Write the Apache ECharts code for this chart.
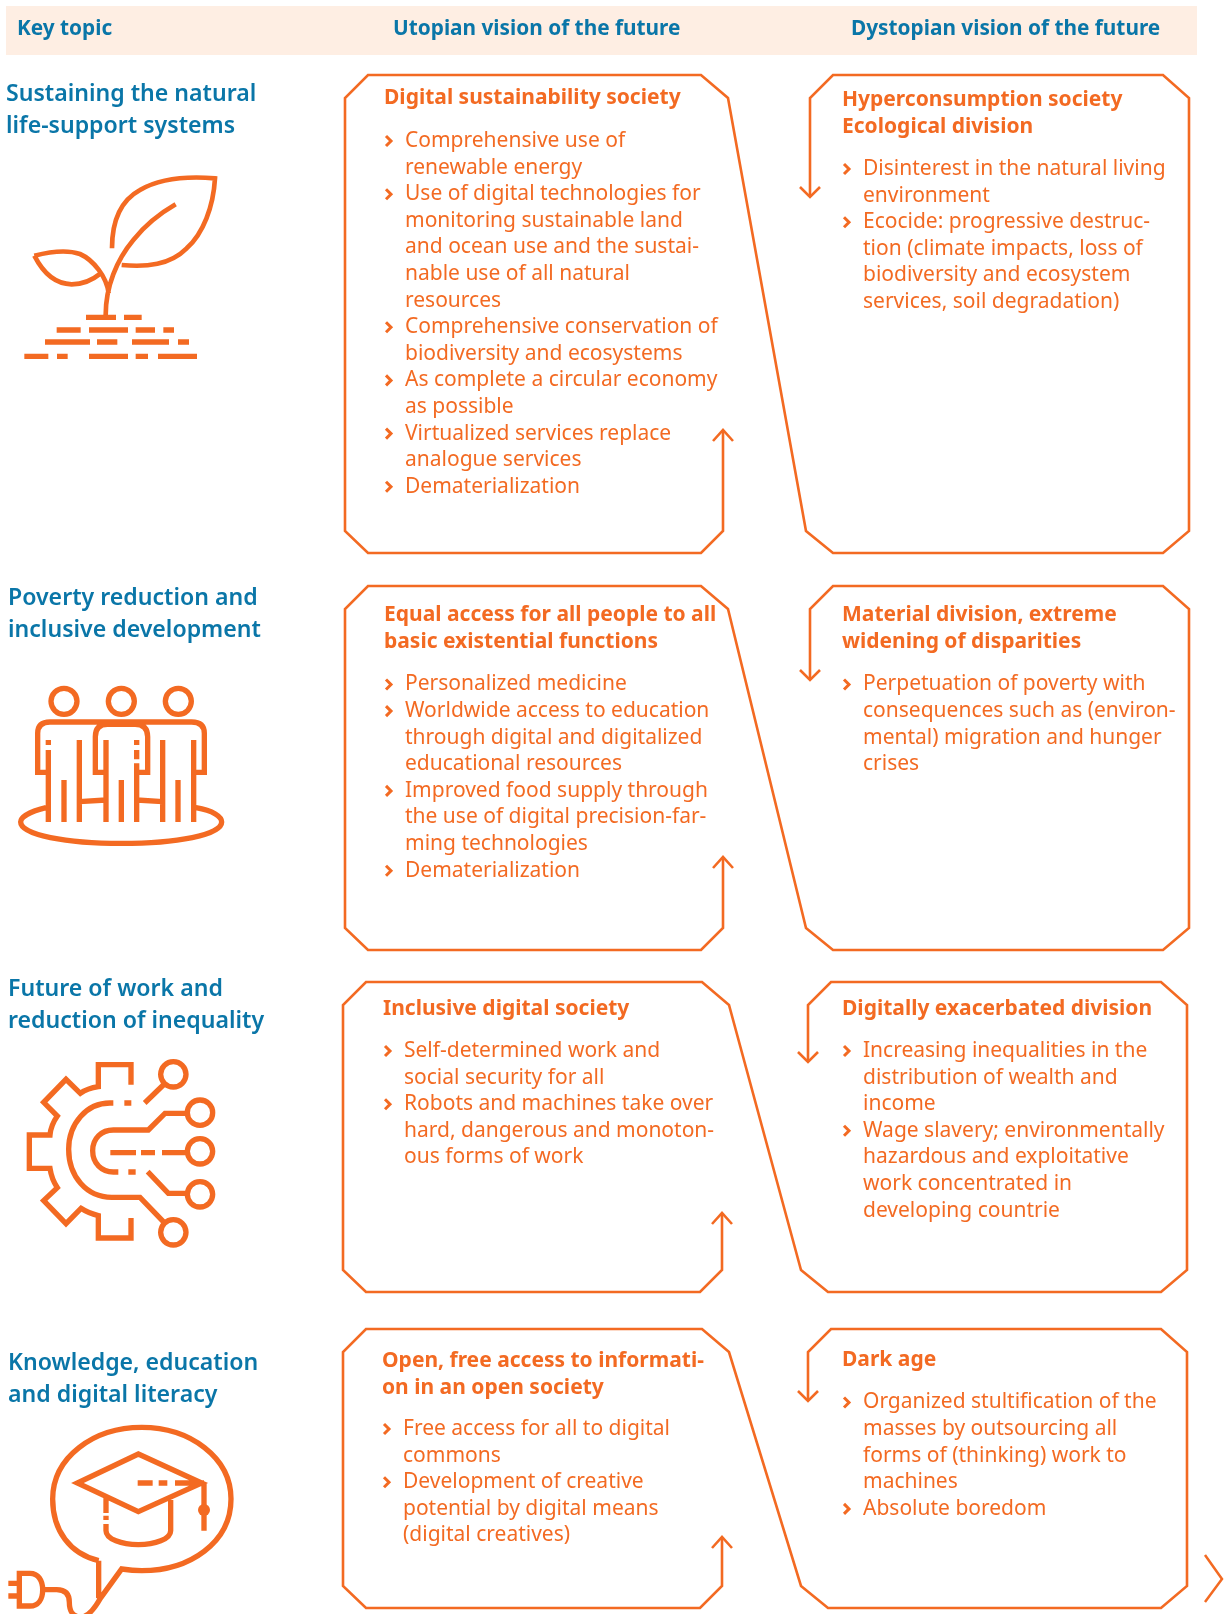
<!DOCTYPE html>
<html>
<head>
<meta charset="utf-8">
<style>html,body{margin:0;padding:0;background:#fff}#main{width:1227px;height:1614px}</style>
<script src="https://cdn.jsdelivr.net/npm/echarts@6/dist/echarts.min.js"></script>
</head>
<body>
<div id="main"></div>
<script>
// text content
var headers = ['Key topic', 'Utopian vision of the future', 'Dystopian vision of the future'];
var topics = [
    ['Sustaining the natural', 'life-support systems'],
    ['Poverty reduction and', 'inclusive development'],
    ['Future of work and', 'reduction of inequality'],
    ['Knowledge, education', 'and digital literacy']
];
var utopianTitles = [
    ['Digital sustainability society'],
    ['Equal access for all people to all', 'basic existential functions'],
    ['Inclusive digital society'],
    ['Open, free access to informati-', 'on in an open society']
];
var dystopianTitles = [
    ['Hyperconsumption society', 'Ecological division'],
    ['Material division, extreme', 'widening of disparities'],
    ['Digitally exacerbated division'],
    ['Dark age']
];
var utopianItems = [
    [['Comprehensive use of', 'renewable energy'],
     ['Use of digital technologies for', 'monitoring sustainable land', 'and ocean use and the sustai-', 'nable use of all natural', 'resources'],
     ['Comprehensive conservation of', 'biodiversity and ecosystems'],
     ['As complete a circular economy', 'as possible'],
     ['Virtualized services replace', 'analogue services'],
     ['Dematerialization']],
    [['Personalized medicine'],
     ['Worldwide access to education', 'through digital and digitalized', 'educational resources'],
     ['Improved food supply through', 'the use of digital precision-far-', 'ming technologies'],
     ['Dematerialization']],
    [['Self-determined work and', 'social security for all'],
     ['Robots and machines take over', 'hard, dangerous and monoton-', 'ous forms of work']],
    [['Free access for all to digital', 'commons'],
     ['Development of creative', 'potential by digital means', '(digital creatives)']]
];
var dystopianItems = [
    [['Disinterest in the natural living', 'environment'],
     ['Ecocide: progressive destruc-', 'tion (climate impacts, loss of', 'biodiversity and ecosystem', 'services, soil degradation)']],
    [['Perpetuation of poverty with', 'consequences such as (environ-', 'mental) migration and hunger', 'crises']],
    [['Increasing inequalities in the', 'distribution of wealth and', 'income'],
     ['Wage slavery; environmentally', 'hazardous and exploitative', 'work concentrated in', 'developing countrie']],
    [['Organized stultification of the', 'masses by outsourcing all', 'forms of (thinking) work to', 'machines'],
     ['Absolute boredom']]
];

// layout of the four rows, in page pixels
var rowLayout = [
    {top: 75, bottom: 553, left: 345, arrowL: 723, tipL: 430, arrowR: 810, tipR: 197, right: 1189, diagL: 728, diagR: 806,
     topicX: 6, topicY: 94, uX: 384, uTitleY: 98.5, uItemY: 141, dX: 842, dTitleY: 100.5, dItemY: 169},
    {top: 586, bottom: 950, left: 345, arrowL: 723, tipL: 857, arrowR: 810, tipR: 680, right: 1189, diagL: 728, diagR: 806,
     topicX: 8, topicY: 598, uX: 384, uTitleY: 615.5, uItemY: 684.5, dX: 842, dTitleY: 615.5, dItemY: 684.5},
    {top: 982, bottom: 1292, left: 343, arrowL: 722, tipL: 1213, arrowR: 808, tipR: 1062, right: 1187, diagL: 729, diagR: 801,
     topicX: 8, topicY: 989, uX: 383, uTitleY: 1009, uItemY: 1051, dX: 842, dTitleY: 1009, dItemY: 1051},
    {top: 1329, bottom: 1608, left: 343, arrowL: 722, tipL: 1537, arrowR: 808, tipR: 1401, right: 1187, diagL: 729, diagR: 801,
     topicX: 8, topicY: 1363, uX: 382, uTitleY: 1361, uItemY: 1429, dX: 842, dTitleY: 1360.5, dItemY: 1402.5}
];

var ORANGE = '#f36a22';
var BLUE = '#0a76a8';
var FONT = '"Noto Sans"';
var BODY = 'normal 400 21px ' + FONT;
var BOLD = 'normal 700 21px ' + FONT;
var HEAD = 'normal 700 20.8px ' + FONT;
var TOPIC = 'normal 600 23.1px ' + FONT;
var LINE = 26.6;

// icon outlines, drawn at 3x and scaled down
var iconPaths = [
    {x: 0, y: 0, w: 14, d: 'M336 745C336 660 365 600 420 570C480 535 560 528 645 535C640 620 610 700 560 745C510 795 440 802 365 795' +
        'M317 945C317 860 350 780 400 720C440 670 480 640 527 613' +
        'M103 767C150 755 200 748 240 762C280 780 320 830 326 880' +
        'M103 767C130 820 165 852 215 853C250 853 280 838 302 820'},
    {x: 0, y: 0, w: 16, d: 'M258 952H348M372 952H425M170 990H242M267 990H384M407 990H465M490 990H522' +
        'M135 1026H270M291 1026H352M396 1026H507M534 1026H567' +
        'M73 1069H145M171 1069H203M267 1069H384M407 1069H444M474 1069H591'},
    {x: 0, y: 640, w: 16, d: 'M145 546V397H113V280Q113 246 150 246H575Q613 246 613 280V397H581V300' +
        'M581 397V546M318 546V397H286V290Q286 253 322 253H405Q443 253 443 290V397H410' +
        'M145 300V315M145 330V400M192 420V546M238 300V546M318 300V400M364 420V546' +
        'M410 300V315M410 330V358M410 370V546M488 300V546M534 420V546' +
        'M238 485L318 480M410 480L488 485' +
        'M138 503C90 515 62 530 62 546C62 585 200 610 364 610C530 610 665 585 665 546C665 530 640 512 588 503' +
        'M231 184A39 39 0 1 1 153 184A39 39 0 1 1 231 184' +
        'M403 184A39 39 0 1 1 325 184A39 39 0 1 1 403 184' +
        'M574 184A39 39 0 1 1 496 184A39 39 0 1 1 574 184'},
    {x: 0, y: 1040, w: 16, d: 'M393 134V74H295V140C275 143 258 148 241 160L198 118L131 187L172 228C160 245 152 262 150 285H88V385H150' +
        'C153 405 160 425 172 443L131 482L198 551L243 505C258 515 275 522 295 527V594H393V534' +
        'M340 189H330C260 189 206 250 206 328C206 410 260 472 335 472H420L490 545' +
        'M373 189H394M434 189L490 135' +
        'M355 396H340C305 396 278 370 278 332C278 295 305 270 340 270H445L495 220H560' +
        'M331 338H408M423 338H465M486 338H560M385 396H407M443 395L505 460H560' +
        'M558 103A38 38 0 1 1 482 103A38 38 0 1 1 558 103' +
        'M638 218A38 38 0 1 1 562 218A38 38 0 1 1 638 218' +
        'M638 334A38 38 0 1 1 562 334A38 38 0 1 1 638 334' +
        'M638 463A38 38 0 1 1 562 463A38 38 0 1 1 638 463' +
        'M558 577A38 38 0 1 1 482 577A38 38 0 1 1 558 577'},
    {x: 0, y: 1414, w: 16, d: 'M296 440C210 420 158 350 158 255C158 130 280 40 425 40C570 40 693 130 693 255C693 385 570 470 425 470C405 470 385 468 365 465L296 560' +
        'M296 440V552M58 478H90C115 478 128 500 128 527C128 555 115 576 90 576H58ZM25 508H58M25 546H58' +
        'M128 527H170C195 527 208 540 208 565C208 590 215 605 240 610C260 610 280 590 300 555' +
        'M415 120L605 207L415 293L232 207ZM413 207H458M476 207H502M525 207H612M612 207V350' +
        'M318 250V297M318 305V318M318 330V350C318 375 365 392 415 392C465 392 512 375 512 350V258'}
];

function textEl(str, x, y, font, fill) {
    return {type: 'text', silent: true, style: {text: str, x: x, y: y, font: font, fill: fill, verticalAlign: 'middle', align: 'left'}};
}

function lineEl(points, width) {
    return {type: 'polyline', silent: true, shape: {points: points},
        style: {stroke: ORANGE, fill: 'none', lineWidth: width, lineJoin: 'miter'}};
}

function addList(children, items, x, y) {
    var yy = y;
    items.forEach(function (lines) {
        children.push(lineEl([[x + 2, yy - 5], [x + 7, yy], [x + 2, yy + 5]], 3));
        lines.forEach(function (str) {
            children.push(textEl(str, x + 21, yy, BODY, ORANGE));
            yy += LINE;
        });
    });
}

function buildAll() {
    var c = [];
    // header band
    c.push({type: 'rect', silent: true, shape: {x: 6, y: 6, width: 1191, height: 49}, style: {fill: '#feeee3'}});
    c.push(textEl(headers[0], 17, 29, HEAD, BLUE));
    c.push(textEl(headers[1], 393, 29, HEAD, BLUE));
    c.push(textEl(headers[2], 851, 29, HEAD, BLUE));

    rowLayout.forEach(function (r, i) {
        // one continuous outline runs through both boxes of a row
        c.push(lineEl([
            [r.arrowL, r.tipL], [r.arrowL, r.bottom - 22], [r.arrowL - 22, r.bottom], [r.left + 23, r.bottom], [r.left, r.bottom - 22],
            [r.left, r.top + 23], [r.left + 23, r.top], [r.diagL - 27, r.top], [r.diagL, r.top + 23],
            [r.diagR, r.bottom - 22], [r.diagR + 27, r.bottom], [r.right - 26, r.bottom], [r.right, r.bottom - 22],
            [r.right, r.top + 23], [r.right - 26, r.top], [r.arrowR + 23, r.top], [r.arrowR, r.top + 23], [r.arrowR, r.tipR]
        ], 2.6));
        c.push(lineEl([[r.arrowL - 10, r.tipL + 11], [r.arrowL, r.tipL], [r.arrowL + 10, r.tipL + 11]], 2.6));
        c.push(lineEl([[r.arrowR - 10, r.tipR - 10], [r.arrowR, r.tipR], [r.arrowR + 10, r.tipR - 10]], 2.6));

        topics[i].forEach(function (str, k) {
            c.push(textEl(str, r.topicX, r.topicY + k * 32.5, TOPIC, BLUE));
        });
        utopianTitles[i].forEach(function (str, k) {
            c.push(textEl(str, r.uX, r.uTitleY + k * LINE, BOLD, ORANGE));
        });
        dystopianTitles[i].forEach(function (str, k) {
            c.push(textEl(str, r.dX, r.dTitleY + k * LINE, BOLD, ORANGE));
        });
        addList(c, utopianItems[i], r.uX, r.uItemY);
        addList(c, dystopianItems[i], r.dX, r.dItemY);
    });

    iconPaths.forEach(function (p) {
        c.push({type: 'path', silent: true, x: p.x, y: p.y, scaleX: 1 / 3, scaleY: 1 / 3,
            shape: {pathData: p.d},
            style: {stroke: ORANGE, fill: 'none', lineWidth: p.w}});
    });
    // tassel knob
    c.push({type: 'circle', silent: true, shape: {cx: 204, cy: 1510, r: 6}, style: {fill: ORANGE}});
    // next page chevron
    c.push(lineEl([[1205, 1555], [1222, 1579], [1205, 1602]], 2.5));
    return c;
}

var myChart = echarts.init(document.getElementById('main'));
myChart.setOption({
    animation: false,
    backgroundColor: '#fff',
    series: [{
        type: 'custom',
        coordinateSystem: 'none',
        silent: true,
        clip: false,
        data: [0],
        renderItem: function () {
            return {type: 'group', children: buildAll()};
        }
    }]
});
</script>
</body>
</html>
